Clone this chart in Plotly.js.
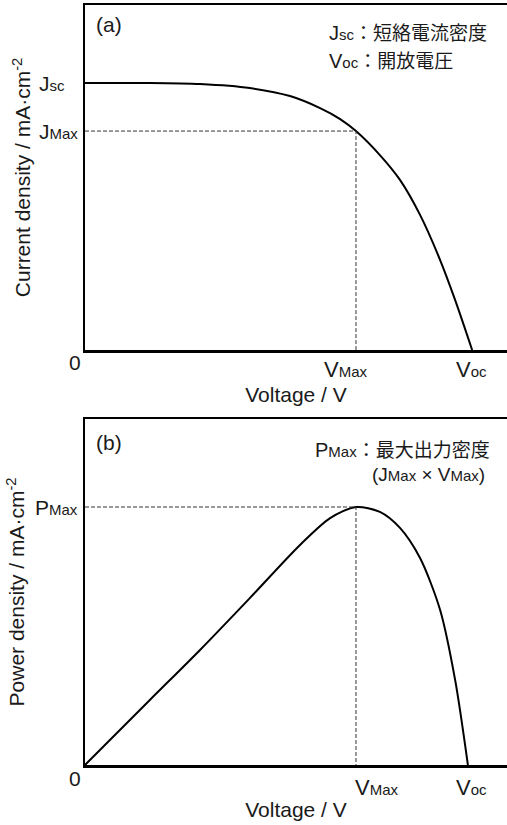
<!DOCTYPE html>
<html>
<head>
<meta charset="utf-8">
<script src="https://cdn.plot.ly/plotly-3.0.1.min.js"></script>
<style>html,body{margin:0;padding:0;background:#fff;}#chart{width:507px;height:825px;}</style>
</head>
<body>
<div id="chart"></div>
<script>
// Panel (a): J–V curve (arbitrary units, Jsc = 1, Voc ≈ 1)
const voltageA = [0, 0.168, 0.298, 0.427, 0.531, 0.609, 0.661, 0.702, 0.764, 0.816, 0.868, 0.920, 0.959, 1.003];
const currentA = [1.0, 1.0, 0.996, 0.981, 0.951, 0.906, 0.865, 0.820, 0.730, 0.637, 0.506, 0.337, 0.187, 0];
// Panel (b): P–V curve (arbitrary units, PMax = 1)
const voltageB = [0, 0.168, 0.298, 0.427, 0.557, 0.635, 0.702, 0.764, 0.816, 0.868, 0.920, 0.959, 0.992];
const powerB   = [0, 0.252, 0.446, 0.647, 0.853, 0.957, 1.0, 0.981, 0.919, 0.802, 0.601, 0.329, 0];
// Characteristic points
const Jsc = 1.0, JMax = 0.820, VMax = 0.702, VocA = 1.003, VocB = 0.992, PMax = 1.0;

const FONT = 'Liberation Sans, Arial, sans-serif';
const INK = '#1a1a1a';
const sub = s => '<span style="font-size:15px">' + s + '</span>';
const jp = s => '<span style="font-family:Noto Sans CJK JP;font-size:19px">' + s + '</span>';

const W = 507, H = 825, L = 85;
const px = x => (x - L) / (W - L);   // pixel -> paper x
const py = y => 1 - y / H;           // pixel -> paper y

const traces = [
  {x: voltageA, y: currentA, xaxis: 'x', yaxis: 'y', mode: 'lines',
   line: {color: '#000', width: 2, shape: 'spline', smoothing: 0.8}, hoverinfo: 'skip'},
  {x: [0, VMax, VMax], y: [JMax, JMax, 0], xaxis: 'x', yaxis: 'y', mode: 'lines',
   line: {color: '#333', width: 1, dash: '4px,2px'}, hoverinfo: 'skip'},
  {x: voltageB, y: powerB, xaxis: 'x2', yaxis: 'y2', mode: 'lines',
   line: {color: '#000', width: 2, shape: 'spline', smoothing: 0.8}, hoverinfo: 'skip'},
  {x: [0, VMax, VMax], y: [PMax, PMax, 0], xaxis: 'x2', yaxis: 'y2', mode: 'lines',
   line: {color: '#333', width: 1, dash: '4px,2px'}, hoverinfo: 'skip'}
];

const ax = {showgrid: false, zeroline: false, showticklabels: false, ticks: '',
            showline: true, linecolor: '#000', linewidth: 2.5, fixedrange: true};
const xTitle = {text: 'Voltage / V', font: {size: 21, family: FONT, color: INK}, standoff: 36};

const ann = (text, x, y, xref, yref, xa, ya, size, xshift) => ({
  text, x, y, xref, yref, xanchor: xa || 'center', yanchor: ya || 'middle', xshift: xshift || 0,
  showarrow: false, font: {family: FONT, size: size || 21, color: INK}
});

const layout = {
  width: W, height: H, showlegend: false,
  paper_bgcolor: '#fff', plot_bgcolor: '#fff',
  margin: {l: L, r: 0, t: 0, b: 0},
  font: {family: FONT, color: INK},
  xaxis: Object.assign({}, ax, {domain: [0, 1], range: [0, 422/386], anchor: 'y', mirror: true, title: xTitle}),
  yaxis: Object.assign({}, ax, {domain: [py(350), py(5)], range: [0, 345/267], anchor: 'x',
    title: {text: 'Current density / mA·cm<sup>-2</sup>', font: {size: 21, family: FONT, color: INK}, standoff: 46}}),
  xaxis2: Object.assign({}, ax, {domain: [0, 1], range: [0, 422/386], anchor: 'y2', mirror: true, title: xTitle}),
  yaxis2: Object.assign({}, ax, {domain: [py(765), py(419)], range: [0, 346/258], anchor: 'x2',
    title: {text: 'Power density / mA·cm<sup>-2</sup>', font: {size: 21, family: FONT, color: INK}, standoff: 52}}),
  annotations: [
    // panel (a)
    ann('(a)', px(94), py(25), 'paper', 'paper', 'left', 'middle', 21),
    ann('J' + sub('sc'), px(37), Jsc, 'paper', 'y', 'left', 'middle'),
    ann('J' + sub('Max'), px(37), JMax, 'paper', 'y', 'left', 'middle'),
    ann('0', px(75), py(363), 'paper', 'paper', 'center', 'middle', 21),
    ann('V' + sub('Max'), VMax, py(369), 'x', 'paper', 'center', 'middle', 22, -10),
    ann('V' + sub('oc'), VocA, py(369), 'x', 'paper', 'center', 'middle', 22, -1),
    ann('J' + sub('sc') + jp('：短絡電流密度'), px(327), py(31), 'paper', 'paper', 'left', 'middle', 20),
    ann('V' + sub('oc') + jp('：開放電圧'), px(327), py(59), 'paper', 'paper', 'left', 'middle', 20),
    // panel (b)
    ann('(b)', px(94), py(442), 'paper', 'paper', 'left', 'middle', 21),
    ann('P' + sub('Max'), px(33), PMax, 'paper', 'y2', 'left', 'middle'),
    ann('0', px(75), py(778), 'paper', 'paper', 'center', 'middle', 21),
    ann('V' + sub('Max'), VMax, py(787), 'x2', 'paper', 'left', 'middle', 22, -3),
    ann('V' + sub('oc'), VocB, py(787), 'x2', 'paper', 'center', 'middle', 22, 4),
    ann('P' + sub('Max') + jp('：最大出力密度'), px(313), py(448), 'paper', 'paper', 'left', 'middle', 20),
    ann('(J' + sub('Max') + ' × V' + sub('Max') + ')', px(370), py(474), 'paper', 'paper', 'left', 'middle', 19)
  ]
};

Plotly.newPlot('chart', traces, layout, {staticPlot: true, displayModeBar: false});
</script>
</body>
</html>
